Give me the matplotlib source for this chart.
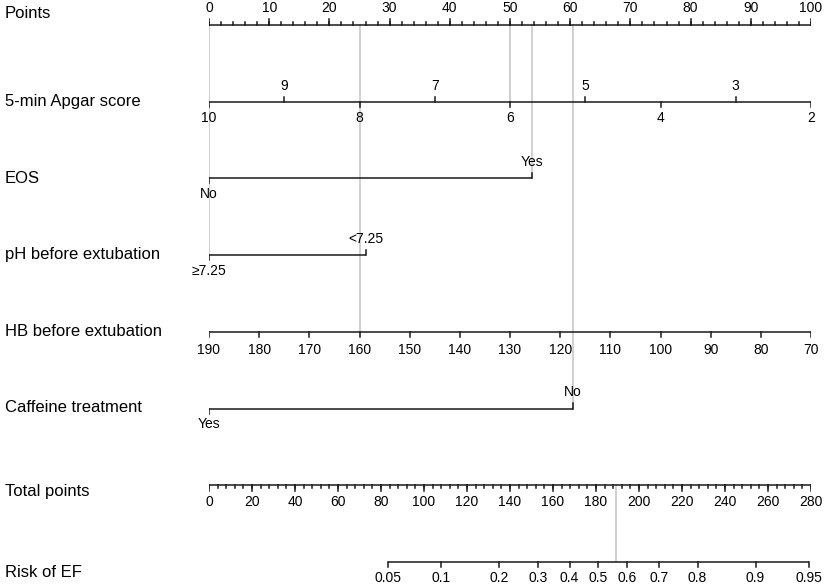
import numpy as np
import matplotlib
matplotlib.use("Agg")
import matplotlib.pyplot as plt

plt.rcParams['font.family'] = ['Liberation Sans', 'DejaVu Sans']

# row labels, top to bottom
row_labels = ["Points", "5-min Apgar score", "EOS", "pH before extubation",
              "HB before extubation", "Caffeine treatment", "Total points", "Risk of EF"]

# points scale
points_major = np.arange(0, 101, 10)
points_minor = np.arange(0, 101, 2)

# apgar score -> points
apgar_scores = np.arange(10, 1, -1)
apgar_pts_per_unit = 12.5

# binary variables (points of the risk level)
eos_levels = ["No", "Yes"]
eos_points = [0, 53.7]
ph_levels = ["\u22657.25", "<7.25"]
ph_points = [0, 26.0]
caf_levels = ["Yes", "No"]
caf_points = [0, 60.5]

# haemoglobin -> points
hb_values = np.arange(190, 69, -10)
hb_pts_per_unit = 100 / 120

# total points
total_major = np.arange(0, 281, 20)
total_minor = np.arange(0, 281, 4)
total_max = 280

# risk
risk_ticks = [0.05, 0.1, 0.2, 0.3, 0.4, 0.5, 0.6, 0.7, 0.8, 0.9, 0.95]
risk_center = 181.16
risk_slope = 0.03008

# example patient
ex_apgar = 6
ex_eos = 1
ex_ph = 0
ex_hb = 160
ex_caf = 1

fig = plt.figure(figsize=(8.29, 5.87), dpi=100)
ax = fig.add_axes([209 / 829, 0, 602 / 829, 1])
row_px = 76.7
top_px = 25
ax.set_ylim((587 - top_px) / row_px, -top_px / row_px)
ax.set_xlim(0, 100)
ax.axis('off')

px = 1 / row_px
lc = '#1a1a1a'
lw = 1.1
tk = 5 * px
fs_lab = 12
fs_tick = 10


def hline(x0, x1, y):
    ax.plot([x0, x1], [y, y], color=lc, lw=lw, solid_capstyle='butt', zorder=3)


def tick(x, y, up, length=tk):
    d = -length if up else length
    ax.plot([x, x], [y, y + d], color=lc, lw=lw, zorder=3)


def tlabel(x, y, s, up, gap=16):
    yy = y - gap * px if up else y + gap * px
    ax.text(x, yy, s, ha='center', va='center', fontsize=fs_tick, zorder=4)


def apgar_x(s):
    return (10 - s) * apgar_pts_per_unit


def hb_x(v):
    return (190 - v) * hb_pts_per_unit


def total_x(t):
    return t * 100 / total_max


def risk_x(p):
    t = risk_center + np.log(p / (1 - p)) / risk_slope
    return total_x(t)


# row labels
label_dy = [-11, 0, 0, -1, 0, -1, 6, 11]
for i, lab in enumerate(row_labels):
    ax.text(-204 / 6.02, i + label_dy[i] * px, lab, ha='left', va='center',
            fontsize=fs_lab, clip_on=False)

# gray reference lines for the example patient
gc = '#d0d0d0'
glw = 1.4
p_apgar = apgar_x(ex_apgar)
p_eos = eos_points[ex_eos]
p_ph = ph_points[ex_ph]
p_hb = hb_x(ex_hb)
p_caf = caf_points[ex_caf]
for xv, row in [(p_apgar, 1), (p_eos, 2), (p_ph, 3), (p_hb, 4), (p_caf, 5)]:
    ax.plot([xv, xv], [0, row], color=gc, lw=glw, zorder=1)
total_ex = p_apgar + p_eos + p_ph + p_hb + p_caf
ax.plot([total_x(total_ex)] * 2, [6, 7], color=gc, lw=glw, zorder=1)

# Points
y = 0
hline(0, 100, y)
for v in points_minor:
    tick(v, y, True, 3 * px)
for v in points_major:
    tick(v, y, True, 6 * px)
    tlabel(v, y, str(v), True, 17)

# Apgar
y = 1
hline(apgar_x(10), apgar_x(2), y)
for s in apgar_scores:
    up = s % 2 == 1
    tick(apgar_x(s), y, up)
    tlabel(apgar_x(s), y, str(s), up)

# binary rows
for y, levels, pts in [(2, eos_levels, eos_points), (3, ph_levels, ph_points),
                       (5, caf_levels, caf_points)]:
    hline(pts[0], pts[1], y)
    tick(pts[0], y, False)
    tlabel(pts[0], y, levels[0], False)
    tick(pts[1], y, True)
    tlabel(pts[1], y, levels[1], True)

# HB
y = 4
hline(hb_x(190), hb_x(70), y)
for v in hb_values:
    tick(hb_x(v), y, False)
    tlabel(hb_x(v), y, str(v), False, 18)

# Total points
y = 6
hline(total_x(0), total_x(total_max), y)
for v in total_minor:
    tick(total_x(v), y, False, 3 * px)
for v in total_major:
    tick(total_x(v), y, False, 6 * px)
    tlabel(total_x(v), y, str(v), False, 17)

# Risk
y = 7
hline(risk_x(risk_ticks[0]), risk_x(risk_ticks[-1]), y)
for p in risk_ticks:
    tick(risk_x(p), y, False)
    tlabel(risk_x(p), y, f"{p:g}", False, 16)

fig.savefig("out.png", dpi=100)
